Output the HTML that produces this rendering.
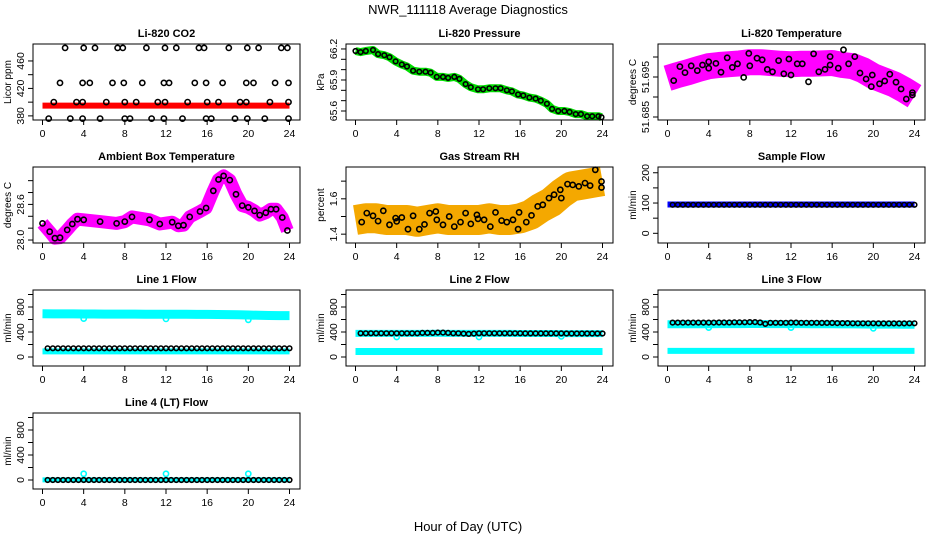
<!DOCTYPE html>
<html><head><meta charset="utf-8"><style>
html,body{margin:0;padding:0;background:#fff}
svg text{font-family:"Liberation Sans",sans-serif;fill:#000}
</style></head><body>
<svg id="c" width="936" height="540" viewBox="0 0 936 540" xmlns="http://www.w3.org/2000/svg">
<text x="468" y="14" font-size="13" text-anchor="middle">NWR_111118  Average Diagnostics</text>
<text x="468" y="531" font-size="13" text-anchor="middle">Hour of Day (UTC)</text>
</svg>
<script>
// ---- data ----
const xTicks=[0,4,8,12,16,20,24];
const halfHours=[0.5,1,1.5,2,2.5,3,3.5,4,4.5,5,5.5,6,6.5,7,7.5,8,8.5,9,9.5,10,10.5,11,11.5,12,12.5,13,13.5,14,14.5,15,15.5,16,16.5,17,17.5,18,18.5,19,19.5,20,20.5,21,21.5,22,22.5,23,23.5,24];
const hours=[0,1,2,3,4,5,6,7,8,9,10,11,12,13,14,15,16,17,18,19,20,21,22,23,24];
// CO2
const co2Red=[395,395,395,395,395,395,395,395,395,395,395,395,395,395,395,395,395,395,395,395,395,395,395,395,395];
const co2HiH=[2.2,4,5.1,7.3,7.8,10.1,11.9,13,15.2,15.7,18.1,19.9,21,23.2,23.8];
const co2HiV=[479,479,479,479,479,479,479,479,479,479,479,479,479,479,479];
const co2MidH=[1.7,3.9,4.6,6.8,7.9,9.7,11.8,12.3,14.8,15.9,17.5,19.8,20.5,22.6,23.9];
const co2MidV=[428,428,428,428,428,428,428,428,428,428,428,428,428,428,428];
const co2LowH=[1.1,3.3,3.9,6.2,8,9.1,11.2,11.9,14.1,16,17.1,19.2,19.8,22.1,23.9];
const co2LowV=[400,400,400,400,400,400,400,400,400,400,400,400,400,400,400];
const co2MinH=[0.6,2.7,3.9,5.6,8,8.5,10.6,11.8,13.6,15.9,16.4,18.7,19.9,21.6,23.9];
const co2MinV=[376,376,376,376,376,376,376,376,376,376,376,376,376,376,376];
// Pressure
const presH=[0,0.5,1,1.7,2.2,2.8,3.3,3.9,4.5,5,5.6,6.2,6.8,7.3,7.9,8.5,9,9.6,10.1,10.7,11.2,11.9,12.4,13,13.6,14.1,14.7,15.2,15.8,16.3,16.9,17.5,18,18.6,19.1,19.7,20.3,20.8,21.4,21.9,22.5,23,23.6,23.9];
const presV=[66.18,66.17,66.18,66.19,66.15,66.14,66.12,66.08,66.05,66.03,65.99,65.98,65.98,65.97,65.93,65.93,65.92,65.93,65.91,65.86,65.83,65.81,65.81,65.82,65.82,65.82,65.8,65.79,65.76,65.75,65.73,65.72,65.7,65.67,65.62,65.6,65.6,65.59,65.57,65.57,65.55,65.55,65.55,65.54];
// Li-820 temperature
const tempBand=[51.6947,51.6955,51.6962,51.697,51.6977,51.698,51.6982,51.6984,51.6987,51.6987,51.6985,51.6983,51.6982,51.6983,51.6983,51.6984,51.6985,51.698,51.6977,51.6967,51.6952,51.6942,51.6932,51.6918,51.6902];
const tempH=[0.6,1.2,1.7,2.3,2.9,3.4,4,4,4.7,5.2,5.8,6.3,6.8,7.4,7.9,8,8.7,9.2,9.7,10.2,10.8,11.3,11.8,12,12.6,13.1,13.7,14.2,14.7,15.3,15.8,15.8,16.6,17.1,17.6,18.2,18.7,19.3,19.8,19.9,20.6,21.1,21.6,22.2,22.7,23.2,23.8,23.8];
const tempV=[51.6941,51.6976,51.6961,51.6978,51.6966,51.698,51.6988,51.6972,51.6984,51.6962,51.6998,51.6974,51.6983,51.6949,51.7009,51.6978,51.6997,51.6993,51.6969,51.6963,51.6991,51.6958,51.6995,51.6955,51.6983,51.6983,51.6938,51.7008,51.6963,51.6969,51.7001,51.698,51.6972,51.7018,51.6983,51.7001,51.696,51.6945,51.6926,51.6955,51.6933,51.694,51.6957,51.6937,51.692,51.6895,51.6905,51.6911];
// Ambient box temperature
const ambH=[0,0.7,1.2,1.7,2.4,2.9,3.4,4,5.6,7.2,8,8.7,10.4,11.4,12.6,13.2,13.7,14.3,15.3,15.9,16.6,17.1,17.6,18.2,18.8,19.4,20,20.6,21.1,21.7,22.2,22.7,23.3,23.8];
const ambV=[28.28,28.14,28.03,28.04,28.17,28.27,28.35,28.34,28.31,28.28,28.31,28.39,28.34,28.27,28.30,28.24,28.25,28.39,28.48,28.54,28.83,29.02,29.08,29.01,28.77,28.58,28.55,28.49,28.42,28.46,28.52,28.52,28.38,28.16];
// Gas stream RH
const rhBand=[1.48,1.49,1.49,1.48,1.48,1.48,1.47,1.48,1.49,1.48,1.48,1.48,1.48,1.49,1.48,1.48,1.49,1.51,1.55,1.58,1.63,1.67,1.68,1.69,1.70];
const rhH=[0.6,1.1,1.7,2.2,2.7,3.3,3.9,4,4.5,5.1,5.6,6.2,6.7,7.2,7.8,7.9,8.5,9.1,9.6,10.2,10.7,11.2,11.8,11.9,12.5,13.1,13.6,14.2,14.7,15.3,15.9,15.8,16.6,17.1,17.7,18.2,18.8,19.3,19.9,20,20.6,21.1,21.7,22.3,22.8,23.3,23.9,23.9];
const rhV=[1.468,1.519,1.504,1.474,1.532,1.453,1.491,1.472,1.494,1.428,1.504,1.428,1.455,1.519,1.528,1.481,1.453,1.5,1.443,1.468,1.519,1.458,1.509,1.487,1.481,1.443,1.523,1.477,1.468,1.481,1.523,1.428,1.468,1.506,1.557,1.566,1.604,1.623,1.651,1.604,1.683,1.679,1.67,1.689,1.675,1.764,1.698,1.664];
// Sample flow
const sfBand=[95,95,95,95,95,95,95,95,95,95,95,95,95,95,95,95,95,95,95,95,95,95,95,95,95];
const sfBlack=[94,94,94,94,94,94,94,94,94,94,94,94,94,94,94,94,94,94,94,94,94,94,94,94,94,94,94,94,94,94,94,94,94,94,94,94,94,94,94,94,94,94,94,94,94,94,94,94];
// Line flows
const l1Hi=[692,690,690,689,688,688,687,687,686,686,685,685,684,683,683,682,681,680,679,676,672,668,664,662,662];
const l1Lo=[90,90,90,90,90,90,90,90,90,90,90,90,90,90,90,90,90,90,90,90,90,90,90,90,90];
const l1Black=[140,140,140,140,140,140,140,140,140,140,140,140,140,140,140,140,140,140,140,140,140,140,140,140,140,140,140,140,140,140,140,140,140,140,140,140,140,140,140,140,140,140,140,140,140,140,140,140];
const dipH=[4,12,20];
const l1Dip=[615,610,595];
const l2Hi=[378,378,378,378,378,378,378,378,380,378,378,378,378,378,378,378,376,376,376,376,375,375,375,375,375];
const l2Lo=[88,88,88,88,88,88,88,88,88,88,88,88,88,88,88,88,88,88,88,88,88,88,88,88,88];
const l2Black=[380,380,380,380,380,380,380,380,380,380,380,380,385,385,385,390,390,385,380,380,375,370,375,380,380,380,380,380,380,380,380,380,378,378,378,378,378,378,378,378,376,376,376,376,376,376,376,376];
const l2Dip=[320,320,330];
const l3Hi=[525,525,525,525,525,526,526,527,528,528,527,527,526,526,525,524,523,522,521,520,519,518,518,517,517];
const l3Lo=[98,98,98,98,98,98,98,98,98,98,98,98,98,98,98,98,98,98,98,98,98,98,98,98,98];
const l3Black=[550,550,550,550,550,550,550,550,550,552,552,552,555,555,555,558,558,552,530,548,548,548,548,550,550,548,548,548,548,545,545,545,542,542,542,540,540,540,540,540,538,538,538,538,538,538,540,540];
const l3Dip=[470,470,460];
const l4Band=[2,2,2,2,2,2,2,2,2,2,2,2,2,2,2,2,2,2,2,2,2,2,2,2,2];
const l4Black=[0,0,0,0,0,0,0,0,0,0,0,0,0,0,0,0,0,0,0,0,0,0,0,0,0,0,0,0,0,0,0,0,0,0,0,0,0,0,0,0,0,0,0,0,0,0,0,0];
const l4Spike=[100,100,100];
const flowTicks=[0,200,400,600,800,1000];
const flowLabels=["0","","400","","800",""];

// ---- drawing ----
const NS="http://www.w3.org/2000/svg";
const svg=document.getElementById('c');
function el(tag,attrs,parent){const e=document.createElementNS(NS,tag);for(const k in attrs)e.setAttribute(k,attrs[k]);(parent||svg).appendChild(e);return e;}
const colX=[33,346,658], rowY=[44,167,290,413], W=267, H=76;

function makePanel(name,col,row,ymin,ymax,yticks,ylabels,ytitle,title){
  const x0=colX[col], y0=rowY[row];
  const g=el('g',{});
  
  
  const P={g,x0,y0,
    sx:h=>x0+9.5+h*247/24,
    sy:v=>y0+H-(v-ymin)/(ymax-ymin)*H};
  const t=el('text',{x:x0+W/2,y:y0-7,'font-size':11,'font-weight':'bold','text-anchor':'middle'},g);
  t.textContent=title;
  
  
  P.marks=el('g',{},g);
  
  
  const box=el('rect',{x:x0,y:y0,width:W,height:H,fill:'none',stroke:'#000','stroke-width':1},g);
  
  
  const xa=el('g',{},g);
  
  
  xTicks.forEach(v=>{const x=P.sx(v);
    el('line',{x1:x,x2:x,y1:y0+H,y2:y0+H+5,stroke:'#000'},xa);
    const l=el('text',{x:x,y:y0+H+17,'font-size':10.5,'text-anchor':'middle'},xa);l.textContent=v;});
  const ya=el('g',{},g);
  
  
  yticks.forEach((v,i)=>{const y=P.sy(v);
    el('line',{x1:x0-5,x2:x0,y1:y,y2:y,stroke:'#000'},ya);
    if(ylabels[i]){const l=el('text',{x:x0-9,y:y,'font-size':10.5,'text-anchor':'middle',transform:`rotate(-90 ${x0-9} ${y})`},ya);l.textContent=ylabels[i];}});
  const yt=el('text',{x:x0-22,y:y0+H/2,'font-size':10,'text-anchor':'middle',transform:`rotate(-90 ${x0-22} ${y0+H/2})`},g);
  yt.textContent=ytitle;
  
  
  return P;
}
function band(P,hs,vs,color,width,nm){
  const d=hs.map((h,i)=>(i?'L':'M')+P.sx(h).toFixed(1)+' '+P.sy(vs[i]).toFixed(1)).join(' ');
  const p=el('path',{d:d,fill:'none',stroke:color,'stroke-width':width,'stroke-linejoin':'round','stroke-linecap':'butt'},P.marks);
  
  
}
function pts(P,hs,vs,color,nm,r){
  const g=el('g',{},P.marks);
  
  
  hs.forEach((h,i)=>{
    el('circle',{cx:P.sx(h).toFixed(1),cy:P.sy(vs[i]).toFixed(1),r:r||2.6,fill:'none',stroke:color,'stroke-width':1.6},g);
  });
}

// CO2
let P=makePanel('co2',0,0,374,484.7,[380,400,420,440,460],["380","","420","","460"],'Licor ppm','Li-820 CO2');
band(P,hours,co2Red,'#ff0000',6,'co2-red-band');
pts(P,co2HiH,co2HiV,'#000','co2-points-high');
pts(P,co2MidH,co2MidV,'#000','co2-points-mid');
pts(P,co2LowH,co2LowV,'#000','co2-points-low');
pts(P,co2MinH,co2MinV,'#000','co2-points-min');
// Pressure
P=makePanel('pressure',1,0,65.513,66.248,[65.6,65.7,65.8,65.9,66.0,66.1,66.2],["65.6","","","65.9","","","66.2"],'kPa','Li-820 Pressure');
band(P,presH,presV,'#00dd00',8,'pressure-green-band');
pts(P,presH,presV,'#000','pressure-points',2.3);
// Temperature
P=makePanel('li820-temp',2,0,51.68425,51.70325,[51.685,51.69,51.695,51.70],["51.685","","51.695",""],'degrees C','Li-820 Temperature');
band(P,hours,tempBand,'#ff00ff',26,'temp-magenta-band');
pts(P,tempH,tempV,'#000','temp-points');
// Ambient
P=makePanel('ambient',0,1,27.95,29.23,[28.0,28.2,28.4,28.6,28.8,29.0],["28.0","","","28.6","",""],'degrees C','Ambient Box Temperature');
band(P,ambH,ambV,'#ff00ff',13,'ambient-magenta-band');
pts(P,ambH,ambV,'#000','ambient-points');
// RH
P=makePanel('rh',1,1,1.35,1.78,[1.4,1.5,1.6,1.7],["1.4","","1.6",""],'percent','Gas Stream RH');
band(P,hours,rhBand,'#f4a800',30,'rh-orange-band');
pts(P,rhH,rhV,'#000','rh-points');
// Sample flow
P=makePanel('sample-flow',2,1,-32,219,[0,50,100,150,200],["0","","100","","200"],'ml/min','Sample Flow');
band(P,hours,sfBand,'#0000ff',6,'sample-flow-blue-band');
pts(P,halfHours,sfBlack,'#000','sample-flow-points',2.3);
// Line 1
P=makePanel('line1',0,2,-144,1072,flowTicks,flowLabels,'ml/min','Line 1 Flow');
band(P,hours,l1Hi,'#00ffff',9,'line1-cyan-high-band');
band(P,hours,l1Lo,'#00ffff',6,'line1-cyan-low-band');
pts(P,dipH,l1Dip,'#00ffff','line1-cyan-dips');
pts(P,halfHours,l1Black,'#000','line1-points',2.3);
// Line 2
P=makePanel('line2',1,2,-144,1072,flowTicks,flowLabels,'ml/min','Line 2 Flow');
band(P,hours,l2Hi,'#00ffff',7,'line2-cyan-high-band');
band(P,hours,l2Lo,'#00ffff',7,'line2-cyan-low-band');
pts(P,dipH,l2Dip,'#00ffff','line2-cyan-dips');
pts(P,halfHours,l2Black,'#000','line2-points',2.3);
// Line 3
P=makePanel('line3',2,2,-144,1072,flowTicks,flowLabels,'ml/min','Line 3 Flow');
band(P,hours,l3Hi,'#00ffff',8,'line3-cyan-high-band');
band(P,hours,l3Lo,'#00ffff',6,'line3-cyan-low-band');
pts(P,dipH,l3Dip,'#00ffff','line3-cyan-dips');
pts(P,halfHours,l3Black,'#000','line3-points',2.3);
// Line 4
P=makePanel('line4',0,3,-144,1072,flowTicks,flowLabels,'ml/min','Line 4 (LT) Flow');
band(P,hours,l4Band,'#00ffff',5,'line4-cyan-band');
pts(P,dipH,l4Spike,'#00ffff','line4-cyan-spikes');
pts(P,halfHours,l4Black,'#000','line4-points',2.3);
</script>
</body></html>
